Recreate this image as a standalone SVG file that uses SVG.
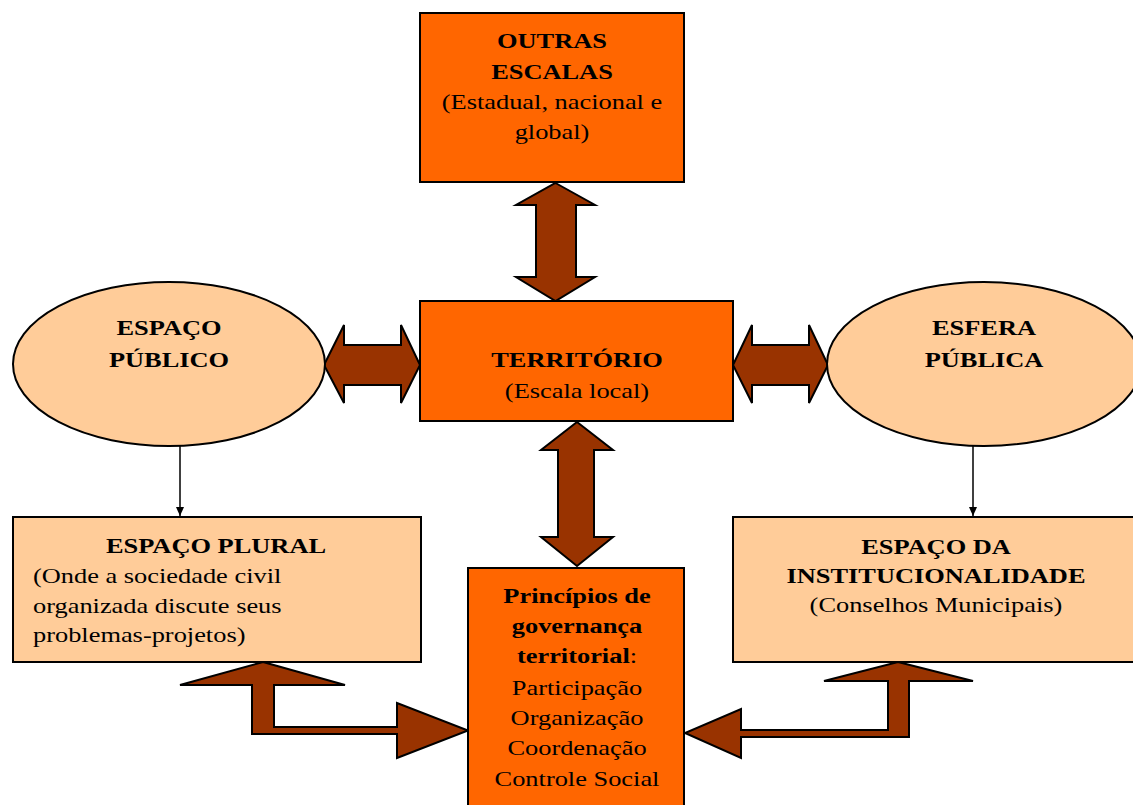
<svg xmlns="http://www.w3.org/2000/svg" width="1133" height="805" viewBox="0 0 1133 805">
<defs>
<marker id="ah" markerWidth="10" markerHeight="10" refX="9" refY="5" orient="auto" markerUnits="userSpaceOnUse">
<path d="M0,1 L9,5 L0,9 Z" fill="#000"/>
</marker>
<style>
.box{fill:#FF6600;stroke:#000;stroke-width:2}
.lt{fill:#FFCC99;stroke:#000;stroke-width:2}
.arr{fill:#993300;stroke:#000;stroke-width:2;stroke-linejoin:miter}
text{font-family:"Liberation Serif","Times New Roman",serif;font-size:22px;fill:#000}
.b{font-weight:bold}
.c{text-anchor:middle}
.ln{stroke:#000;stroke-width:1.5;fill:none}
</style>
</defs>
<rect width="1133" height="805" fill="#fff"/>
<g id="connectors">
<polygon class="arr" points="555.5,183 595,205 576,205 576,277 595,277 555.5,301 516,277 536,277 536,205 516,205"/>
<polygon class="arr" points="577,422 613,450 594,450 594,537 613,537 577,566 541,537 558,537 558,450 541,450"/>
<polygon class="arr" points="324,365 344,325 344,345 401,345 401,325 420,365 401,403 401,385 344,385 344,403"/>
<polygon class="arr" points="733,365 752,325 752,345 809,345 809,325 828,365 809,403 809,385 752,385 752,403"/>
<polygon class="arr" points="263,662 345,685 274,685 274,727 397,727 397,703 468,730.5 397,758 397,734 252,734 252,685 180,685"/>
<polygon class="arr" points="898,662 973,681 909,681 909,737 741,737 741,758 685,733 741,709 741,730 888,730 888,681 824,681"/>
<line class="ln" x1="180" y1="446" x2="180" y2="516" marker-end="url(#ah)"/>
<line class="ln" x1="973" y1="446" x2="973" y2="516" marker-end="url(#ah)"/>
</g>
<g id="outras">
<rect class="box" x="420" y="13" width="264" height="169"/>
<g transform="translate(552,0) scale(1.2,1)">
<text class="c b" x="0" y="48">OUTRAS</text>
<text class="c b" x="0" y="79">ESCALAS</text>
<text class="c" x="0" y="109">(Estadual, nacional e</text>
<text class="c" x="0" y="139">global)</text>
</g>
</g>
<g id="territorio">
<rect class="box" x="420" y="301" width="313" height="120"/>
<g transform="translate(577,0) scale(1.2,1)">
<text class="c b" x="0" y="367">TERRITÓRIO</text>
<text class="c" x="0" y="398">(Escala local)</text>
</g>
</g>
<g id="espaco-publico">
<ellipse class="lt" cx="169" cy="364" rx="156" ry="82"/>
<g transform="translate(169,0) scale(1.2,1)">
<text class="c b" x="0" y="335">ESPAÇO</text>
<text class="c b" x="0" y="367">PÚBLICO</text>
</g>
</g>
<g id="esfera-publica">
<ellipse class="lt" cx="984" cy="364" rx="157" ry="82"/>
<g transform="translate(984,0) scale(1.2,1)">
<text class="c b" x="0" y="335">ESFERA</text>
<text class="c b" x="0" y="367">PÚBLICA</text>
</g>
</g>
<g id="espaco-plural">
<rect class="lt" x="13" y="517" width="408" height="145"/>
<g transform="translate(216,0) scale(1.2,1)">
<text class="c b" x="0" y="553">ESPAÇO PLURAL</text>
</g>
<g transform="translate(33,0) scale(1.2,1)">
<text x="0" y="583">(Onde a sociedade civil</text>
<text x="0" y="613">organizada discute seus</text>
<text x="0" y="642">problemas-projetos)</text>
</g>
</g>
<g id="espaco-institucionalidade">
<rect class="lt" x="733" y="517" width="410" height="145"/>
<g transform="translate(936,0) scale(1.2,1)">
<text class="c b" x="0" y="554">ESPAÇO DA</text>
<text class="c b" x="0" y="583">INSTITUCIONALIDADE</text>
<text class="c" x="0" y="612">(Conselhos Municipais)</text>
</g>
</g>
<g id="principios">
<rect class="box" x="468" y="568" width="216" height="250"/>
<g transform="translate(577,0) scale(1.2,1)">
<text class="c b" x="0" y="603">Princípios de</text>
<text class="c b" x="0" y="633">governança</text>
<text class="c" x="0" y="663"><tspan class="b">territorial</tspan>:</text>
<text class="c" x="0" y="695">Participação</text>
<text class="c" x="0" y="725">Organização</text>
<text class="c" x="0" y="755">Coordenação</text>
<text class="c" x="0" y="786">Controle Social</text>
</g>
</g>
</svg>
